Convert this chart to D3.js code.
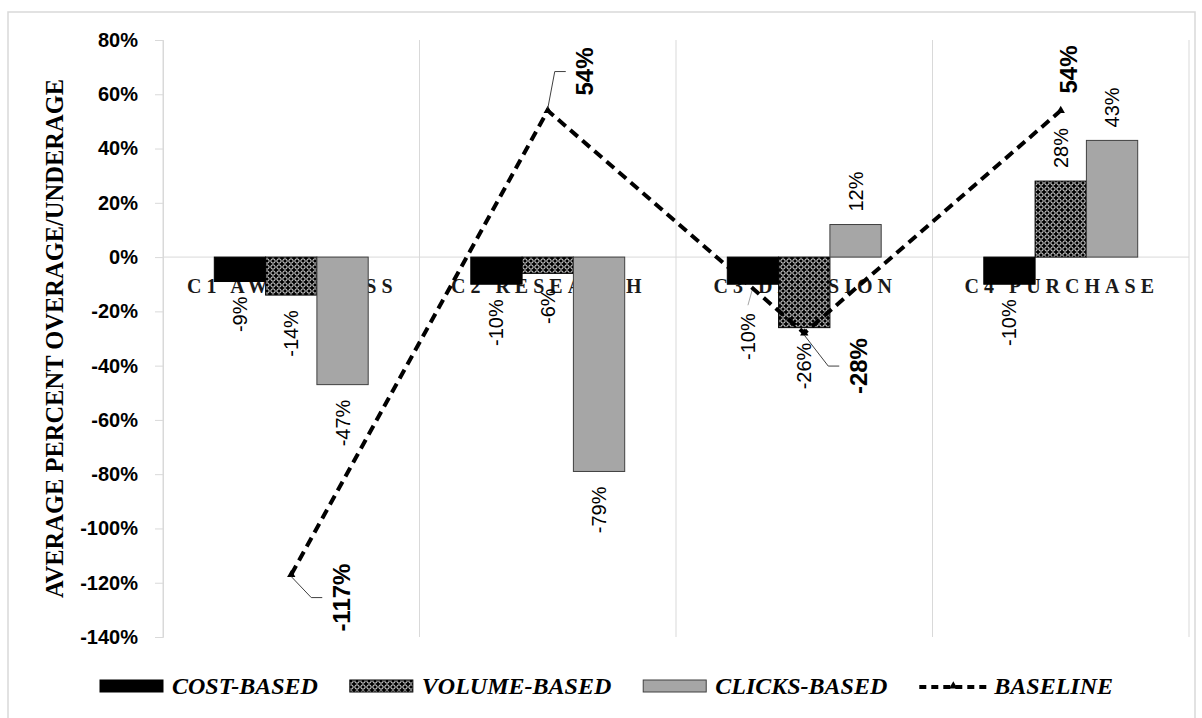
<!DOCTYPE html>
<html>
<head>
<meta charset="utf-8">
<script src="https://cdn.jsdelivr.net/npm/d3@7"></script>
<style>
  body { margin: 0; background: #fff; }
  svg { display: block; }
</style>
</head>
<body>
<svg id="chart" width="1202" height="718"></svg>
<script>
// chart values
const categories = ['C1 AWARENESS', 'C2 RESEARCH', 'C3 DECISION', 'C4 PURCHASE'];
const series = ['COST-BASED', 'VOLUME-BASED', 'CLICKS-BASED'];
const costBased = [-9, -10, -10, -10];
const volumeBased = [-14, -6, -26, 28];
const clicksBased = [-47, -79, 12, 43];
const baseline = [-117, 54, -28, 54];
const yTicks = [-140, -120, -100, -80, -60, -40, -20, 0, 20, 40, 60, 80];

const barValues = [costBased, volumeBased, clicksBased];

const svg = d3.select('#chart');
const sans = '"Liberation Sans", Arial, sans-serif';
const serif = '"Liberation Serif", "Times New Roman", serif';
const grid = '#d9d9d9';

const plot = {left: 163, right: 1189, top: 40, bottom: 637};

const x0 = d3.scaleBand().domain(categories).range([plot.left, plot.right]);
const x1 = d3.scaleBand().domain(series).range([x0.bandwidth() * 0.2, x0.bandwidth() * 0.8]);
const y = d3.scaleLinear().domain([-140, 80]).range([plot.bottom, plot.top]);

// pattern for the volume bars
const defs = svg.append('defs');
const pat = defs.append('pattern')
  .attr('id', 'volPattern')
  .attr('patternUnits', 'userSpaceOnUse')
  .attr('width', 6).attr('height', 6);
pat.append('rect').attr('width', 6).attr('height', 6).attr('fill', '#000');
pat.append('circle').attr('cx', 3).attr('cy', 3).attr('r', 2.2)
  .attr('fill', 'none').attr('stroke', '#fff').attr('stroke-width', 0.9);

const fills = {
  'COST-BASED': {fill: '#000', stroke: '#000'},
  'VOLUME-BASED': {fill: 'url(#volPattern)', stroke: '#000'},
  'CLICKS-BASED': {fill: '#a6a6a6', stroke: '#404040'}
};

//outer frame of the chart
svg.append('rect')
  .attr('x', 8).attr('y', 12)
  .attr('width', 1187).attr('height', 730)
  .attr('fill', 'none').attr('stroke', grid).attr('stroke-width', 1.5);

//vertical gridlines at category edges
const edges = categories.map(c => x0(c)).concat([plot.right]);
svg.append('g').selectAll('line').data(edges).join('line')
  .attr('x1', d => d).attr('x2', d => d)
  .attr('y1', plot.top).attr('y2', plot.bottom)
  .attr('stroke', grid).attr('stroke-width', 1);

//y axis with short ticks
const yAxis = svg.append('g')
  .attr('transform', `translate(${plot.left},0)`)
  .call(d3.axisLeft(y).tickValues(yTicks).tickSize(8).tickPadding(17).tickFormat(d => d + '%'));
yAxis.select('.domain').attr('stroke', grid);
yAxis.selectAll('.tick line').attr('stroke', grid);
yAxis.selectAll('.tick text')
  .attr('font-family', sans).attr('font-size', 20).attr('font-weight', 'bold').attr('fill', '#000');

//zero line (category axis)
svg.append('line')
  .attr('x1', plot.left).attr('x2', plot.right)
  .attr('y1', y(0)).attr('y2', y(0))
  .attr('stroke', grid).attr('stroke-width', 1);

//category labels sit on the zero line, under the bars
svg.append('g').selectAll('text').data(categories).join('text')
  .attr('x', d => x0(d) + x0.bandwidth() / 2 + 1)
  .attr('y', y(0) + 36)
  .attr('text-anchor', 'middle')
  .attr('font-family', serif).attr('font-size', 20).attr('font-weight', 'bold')
  .attr('letter-spacing', 5)
  .attr('fill', '#1a1a1a')
  .text(d => d);

//bars
const barData = [];
series.forEach((s, i) => {
  categories.forEach((c, j) => {
    barData.push({series: s, cat: c, value: barValues[i][j], key: i + '-' + j});
  });
});

svg.append('g').selectAll('rect').data(barData).join('rect')
  .attr('x', d => x0(d.cat) + x1(d.series))
  .attr('y', d => y(Math.max(0, d.value)))
  .attr('width', x1.bandwidth())
  .attr('height', d => Math.abs(y(d.value) - y(0)))
  .attr('fill', d => fills[d.series].fill)
  .attr('stroke', d => fills[d.series].stroke)
  .attr('stroke-width', 1);

//bar data labels, rotated; one label was dragged aside in the original
const nudge = {'0-2': [-5, 14]};
const labels = svg.append('g');
barData.forEach(d => {
  const bx = x0(d.cat) + x1(d.series) + x1.bandwidth() / 2;
  const n = nudge[d.key] || [0, 0];
  const neg = d.value < 0;
  const lx = bx + n[0];
  const ly = neg ? y(d.value) + 15 + n[1] : y(d.value) - 13 + n[1];
  labels.append('text')
    .attr('transform', `translate(${lx},${ly}) rotate(-90)`)
    .attr('dy', '0.35em')
    .attr('text-anchor', neg ? 'end' : 'start')
    .attr('font-family', sans).attr('font-size', 20)
    .attr('fill', '#000')
    .text(d.value + '%');
  if (nudge[d.key]) {
    labels.append('line')
      .attr('x1', bx).attr('y1', y(d.value) + 3)
      .attr('x2', lx).attr('y2', ly - 8)
      .attr('stroke', '#a6a6a6').attr('stroke-width', 1);
  }
});

//baseline line
const pts = categories.map((c, i) => [x0(c) + x0.bandwidth() / 2, y(baseline[i])]);
svg.append('path')
  .attr('d', d3.line()(pts))
  .attr('fill', 'none')
  .attr('stroke', '#000')
  .attr('stroke-width', 4)
  .attr('stroke-dasharray', '10,6');

const tri = d3.symbol().type(d3.symbolTriangle).size(30);
svg.append('g').selectAll('path').data(pts).join('path')
  .attr('transform', d => `translate(${d[0]},${d[1]})`)
  .attr('d', tri)
  .attr('fill', '#000');

//baseline labels, moved off the points with leader lines
const baseOffsets = [[50, 23], [37, -39], [54, 33], [8, -41]];
pts.forEach((p, i) => {
  const lx = p[0] + baseOffsets[i][0];
  const ly = p[1] + baseOffsets[i][1];
  if (Math.abs(baseOffsets[i][0]) > 20) {
    svg.append('path')
      .attr('d', `M${p[0]},${p[1] + (ly > p[1] ? 2 : -2)}L${lx - 30},${ly}H${lx - 19}`)
      .attr('fill', 'none').attr('stroke', '#404040').attr('stroke-width', 1);
  }
  svg.append('text')
    .attr('transform', `translate(${lx},${ly}) rotate(-90)`)
    .attr('dy', '0.35em')
    .attr('text-anchor', 'middle')
    .attr('font-family', sans).attr('font-size', 24).attr('font-weight', 'bold')
    .attr('fill', '#000')
    .text(baseline[i] + '%');
});

//y axis title
svg.append('text')
  .attr('transform', `translate(54,${(plot.top + plot.bottom) / 2}) rotate(-90)`)
  .attr('dy', '0.35em')
  .attr('text-anchor', 'middle')
  .attr('font-family', serif).attr('font-size', 24.5).attr('font-weight', 'bold')
  .attr('fill', '#000')
  .text('AVERAGE PERCENT OVERAGE/UNDERAGE');

//legend
const legend = svg.append('g');
const legendItems = series.concat(['BASELINE']);
let lxPos = 100;
const legY = 694;
legendItems.forEach((name, i) => {
  if (name === 'BASELINE') {
    legend.append('line')
      .attr('x1', lxPos).attr('x2', lxPos + 68)
      .attr('y1', legY - 7).attr('y2', legY - 7)
      .attr('stroke', '#000').attr('stroke-width', 4)
      .attr('stroke-dasharray', '7,5');
    legend.append('path')
      .attr('transform', `translate(${lxPos + 34},${legY - 8})`)
      .attr('d', tri).attr('fill', '#000');
    lxPos += 75;
  } else {
    legend.append('rect')
      .attr('x', lxPos).attr('y', legY - 14)
      .attr('width', 63).attr('height', 12)
      .attr('fill', fills[name].fill)
      .attr('stroke', fills[name].stroke).attr('stroke-width', 1);
    lxPos += 72;
  }
  const t = legend.append('text')
    .attr('x', lxPos).attr('y', legY)
    .attr('font-family', serif).attr('font-size', 24)
    .attr('font-weight', 'bold').attr('font-style', 'italic')
    .attr('fill', '#000')
    .text(name);
  lxPos += t.node().getComputedTextLength() + 32;
});
</script>
</body>
</html>
